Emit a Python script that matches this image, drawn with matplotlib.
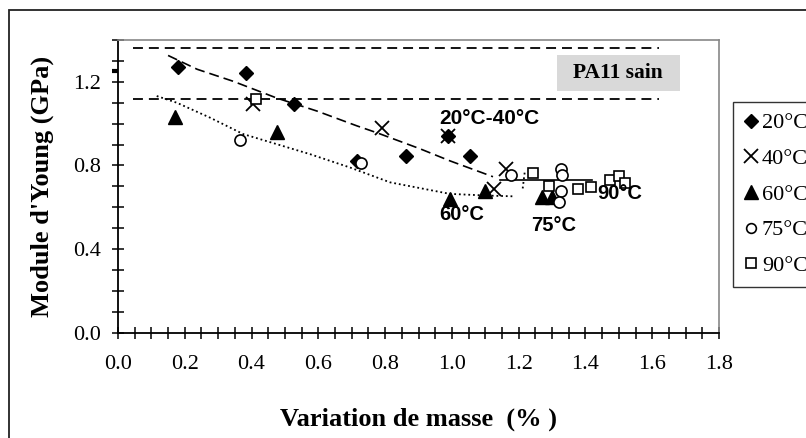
import matplotlib
matplotlib.use('Agg')
import matplotlib.pyplot as plt
import matplotlib.patches as patches
from matplotlib.lines import Line2D
from matplotlib.ticker import MultipleLocator, FormatStrFormatter

# Data (mass variation %, Young's modulus GPa)
x_20 = [0.18, 0.384, 0.526, 0.715, 0.862, 0.987, 1.054]
y_20 = [1.271, 1.241, 1.095, 0.822, 0.843, 0.941, 0.843]

x_40 = [0.403, 0.792, 0.987, 1.127, 1.162]
y_40 = [1.092, 0.981, 0.941, 0.688, 0.783]

x_60 = [0.171, 0.475, 0.994, 1.099, 1.269, 1.299]
y_60 = [1.032, 0.960, 0.640, 0.680, 0.648, 0.648]

x_75 = [0.364, 0.727, 1.177, 1.326, 1.331, 1.326, 1.322]
y_75 = [0.922, 0.814, 0.756, 0.783, 0.756, 0.676, 0.624]

x_90 = [0.412, 1.242, 1.290, 1.379, 1.416, 1.473, 1.500, 1.518]
y_90 = [1.119, 0.762, 0.700, 0.688, 0.695, 0.732, 0.748, 0.716]

# trend lines
trend_2040_x = [0.150, 0.237, 0.344, 0.476, 0.596, 0.716, 0.776, 0.904, 0.994, 1.123]
trend_2040_y = [1.326, 1.260, 1.203, 1.122, 1.060, 0.989, 0.956, 0.880, 0.822, 0.746]

trend_60_x = [0.116, 0.176, 0.275, 0.375, 0.475, 0.575, 0.695, 0.815, 0.994, 1.104, 1.189]
trend_60_y = [1.132, 1.100, 1.029, 0.950, 0.902, 0.854, 0.790, 0.719, 0.664, 0.656, 0.652]

trend_75_x = [1.212, 1.218]
trend_75_y = [0.690, 0.767]

trend_90_x = [1.144, 1.419]
trend_90_y = [0.730, 0.730]

# healthy PA11 band
sain_low, sain_high = 1.119, 1.362
sain_x = [0.045, 1.62]
sain_mark = 1.25

labels = ['20°C', '40°C', '60°C', '75°C', '90°C']

serif = ['Liberation Serif', 'DejaVu Serif']
sans = ['Liberation Sans', 'DejaVu Sans']
plt.rcParams['font.family'] = serif

fig = plt.figure(figsize=(8.06, 4.38), dpi=100)
ax = fig.add_axes([0.1464, 0.2404, 0.7457, 0.6683])

# outer frame
fig.patches.append(patches.Rectangle((0.0112, -0.1), 1.2, 0.9765 + 0.1,
                                     transform=fig.transFigure, fill=False,
                                     edgecolor='#222222', lw=1.3))

dash_ref = (0, (5.5, 3.3))
ax.plot(sain_x, [sain_high, sain_high], color='black', lw=1.3, linestyle=dash_ref)
ax.plot(sain_x, [sain_low, sain_low], color='black', lw=1.3, linestyle=dash_ref)
ax.plot([-0.018, 0], [sain_mark, sain_mark], color='black', lw=3, clip_on=False,
        solid_capstyle='butt')

ax.plot(trend_2040_x, trend_2040_y, color='black', lw=1.2, linestyle=(0, (6, 3)))
ax.plot(trend_60_x, trend_60_y, color='black', lw=1.3, linestyle=(0, (1, 1.6)))
ax.plot(trend_75_x, trend_75_y, color='black', lw=1.3, linestyle=(0, (1, 1.6)))
ax.plot(trend_90_x, trend_90_y, color='black', lw=1.2)

ax.plot(x_20, y_20, linestyle='none', marker='D', ms=7, color='black')
ax.plot(x_40, y_40, linestyle='none', marker='x', ms=10, mew=1.3, color='black')
ax.plot(x_60, y_60, linestyle='none', marker='^', ms=9.5, color='black')
ax.plot(x_75, y_75, linestyle='none', marker='o', ms=8, mfc='white', mec='black', mew=1.2)
ax.plot(x_90, y_90, linestyle='none', marker='s', ms=7.5, mfc='white', mec='black', mew=1.2)

# PA11 sain label box
ax.add_patch(patches.Rectangle((1.314, 1.156), 0.369, 0.170, facecolor='#d9d9d9',
                               edgecolor='none', zorder=1))
ax.text(1.4985, 1.243, 'PA11 sain', ha='center', va='center', fontsize=15.5,
        fontweight='bold', family=serif, zorder=2)

ax.text(1.112, 1.026, '20°C-40°C', ha='center', va='center', fontsize=15,
        fontweight='bold', family=sans)
ax.text(1.029, 0.565, '60°C', ha='center', va='center', fontsize=14.5,
        fontweight='bold', family=sans)
ax.text(1.304, 0.513, '75°C', ha='center', va='center', fontsize=14.5,
        fontweight='bold', family=sans)
ax.text(1.503, 0.664, '90°C', ha='center', va='center', fontsize=14.5,
        fontweight='bold', family=sans)

ax.set_xlim(0, 1.8)
ax.set_ylim(0, 1.4)
ax.xaxis.set_major_locator(MultipleLocator(0.2))
ax.xaxis.set_minor_locator(MultipleLocator(0.05))
ax.yaxis.set_major_locator(MultipleLocator(0.4))
ax.yaxis.set_minor_locator(MultipleLocator(0.1))
ax.xaxis.set_major_formatter(FormatStrFormatter('%.1f'))
ax.yaxis.set_major_formatter(FormatStrFormatter('%.1f'))
ax.tick_params(which='both', direction='inout', length=8, width=1.1, labelsize=16,
               top=False, right=False)
ax.tick_params(axis='x', which='major', pad=12)
ax.tick_params(axis='y', which='major', pad=8)

for side in ['left', 'bottom']:
    ax.spines[side].set_color('black')
    ax.spines[side].set_linewidth(1.3)
for side in ['top', 'right']:
    ax.spines[side].set_color('#888888')
    ax.spines[side].set_linewidth(1.2)

ax.set_xlabel('Variation de masse  (% )', fontsize=19, fontweight='bold', labelpad=24)
ax.set_ylabel("Module d'Young (GPa)", fontsize=19, fontweight='bold', labelpad=14)

handles = [
    Line2D([], [], linestyle='none', marker='D', ms=7, color='black'),
    Line2D([], [], linestyle='none', marker='x', ms=10, mew=1.3, color='black'),
    Line2D([], [], linestyle='none', marker='^', ms=9.5, color='black'),
    Line2D([], [], linestyle='none', marker='o', ms=7, mfc='white', mec='black', mew=1.2),
    Line2D([], [], linestyle='none', marker='s', ms=7, mfc='white', mec='black', mew=1.2),
]
leg = fig.legend(handles, labels, loc='upper left', bbox_to_anchor=(733 / 806, 1 - 101.7 / 438),
                 fontsize=16, frameon=True, fancybox=False, edgecolor='black',
                 handlelength=0.6, handletextpad=0.2, labelspacing=0.68,
                 borderpad=0.5, borderaxespad=0)
leg.get_frame().set_linewidth(1.0)

fig.savefig('out.png', dpi=100)
